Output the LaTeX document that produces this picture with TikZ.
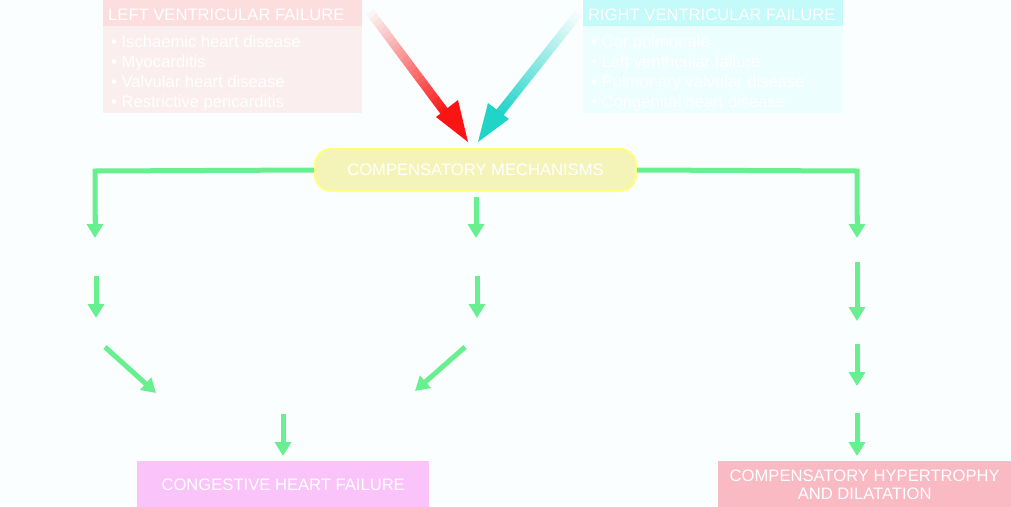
\documentclass[tikz,border=0pt]{standalone}
\usepackage{fontspec}
\setmainfont{Liberation Sans}
\usetikzlibrary{arrows.meta,calc}
\definecolor{grn}{RGB}{104,240,144}
\definecolor{lhead}{RGB}{252,222,222}
\definecolor{lbody}{RGB}{250,238,238}
\definecolor{rhead}{RGB}{196,250,250}
\definecolor{rbody}{RGB}{236,254,254}
\definecolor{cmfill}{RGB}{244,244,184}
\definecolor{cmdraw}{RGB}{255,255,128}
\definecolor{chf}{RGB}{250,196,250}
\definecolor{chd}{RGB}{249,186,196}
\definecolor{bg}{RGB}{251,254,254}
\definecolor{turq}{RGB}{32,212,200}
\definecolor{redA}{RGB}{250,20,20}
\begin{document}
\begin{tikzpicture}[x=1pt,y=-1pt,
  garrow/.style={draw=grn,line width=5pt,-{Triangle[width=16pt,length=14pt]}},
  gline/.style={draw=grn,line width=5pt},
  wtext/.style={text=white,font=\fontsize{16.6}{18}\selectfont},
  btext/.style={text=white,font=\fontsize{16.6}{20}\selectfont,align=left}]
\fill[bg] (0,0) rectangle (1011,506);
\useasboundingbox (0,0) rectangle (1011,506);
% left box
\fill[lbody] (103,26) rectangle (362,113);
\fill[lhead] (103,0) rectangle (362,26);
\node[wtext,anchor=west,inner sep=0pt] (lh) at (108,15) {LEFT VENTRICULAR FAILURE};
\node[btext,anchor=north west,inner sep=0pt] (lb) at (111,35) {• Ischaemic heart disease\\• Myocarditis\\• Valvular heart disease\\• Restrictive pericarditis};
% right box
\fill[rbody] (583,26) rectangle (843,113);
\fill[rhead] (583,0) rectangle (843,26);
\node[wtext,anchor=west,inner sep=0pt] (rh) at (588,15) {RIGHT VENTRICULAR FAILURE};
\node[btext,anchor=north west,inner sep=0pt] (rb) at (591,35) {• Cor pulmonale\\• Left ventricular failure\\• Pulmonary valvular disease\\• Congenital heart disease};
% compensatory mechanisms
\node[fill=cmfill,draw=cmdraw,line width=2pt,rounded corners=16pt,minimum width=321pt,minimum height=42pt,wtext] (cm) at (475.5,170) {COMPENSATORY MECHANISMS};
% gradient arrows
\coordinate (rs) at (370,12);
\coordinate (cs) at (578,14);
\foreach \i in {0,...,24}{
  \pgfmathsetmacro{\a}{\i/25}\pgfmathsetmacro{\b}{(\i+1.05)/25}
  \pgfmathsetmacro{\c}{4+\i*4}
  \draw[redA!\c!bg,line width=9pt] ($(rs)!\a!(447,115)$) -- ($(rs)!\b!(447,115)$);
  \draw[turq!\c!bg,line width=9pt] ($(cs)!\a!(498,115)$) -- ($(cs)!\b!(498,115)$);
}
\fill[redA] (468,142) -- (436,117) -- (458,100) -- cycle;
\fill[turq] (478,142) -- (488,103) -- (509,119) -- cycle;
% green connectors
\coordinate (l1) at (95,238); \coordinate (m1) at (476,238); \coordinate (r1) at (857,238);
\draw[gline] (cm.west) -- (95,171) -- (95,222);
\draw[garrow] (95,215) -- (l1);
\draw[gline] (cm.east) -- (857,171) -- (857,222);
\draw[garrow] (857,215) -- (r1);
\coordinate (m0) at (476,197);
\draw[garrow] (m0) -- (m1);
\coordinate (l2a) at (96,276); \coordinate (l2b) at (96,318);
\draw[garrow] (l2a) -- (l2b);
\coordinate (m2a) at (477,276); \coordinate (m2b) at (477,318);
\draw[garrow] (m2a) -- (m2b);
\coordinate (d1a) at (105,347); \coordinate (d1b) at (156,393);
\draw[garrow] (d1a) -- (d1b);
\coordinate (d2a) at (465,347); \coordinate (d2b) at (415,391);
\draw[garrow] (d2a) -- (d2b);
\coordinate (c1a) at (283,414); \coordinate (c1b) at (283,456);
\draw[garrow] (c1a) -- (c1b);
\coordinate (r2a) at (857,262); \coordinate (r2b) at (857,321);
\draw[garrow] (r2a) -- (r2b);
\coordinate (r3a) at (857,344); \coordinate (r3b) at (857,386);
\draw[garrow] (r3a) -- (r3b);
\coordinate (r4a) at (857,413); \coordinate (r4b) at (857,456);
\draw[garrow] (r4a) -- (r4b);
% bottom boxes
\node[fill=chf,minimum width=292pt,minimum height=46pt,anchor=north west,inner sep=0pt] (chfn) at (137,461) {};
\node[wtext] (chft) at ([yshift=-1pt]chfn.center) {CONGESTIVE HEART FAILURE};
\node[fill=chd,minimum width=293pt,minimum height=46pt,anchor=north west,inner sep=0pt] (chdn) at (718,461) {};
\node[wtext,align=center] (chdt) at ([yshift=-1pt]chdn.center) {COMPENSATORY HYPERTROPHY\\AND DILATATION};
\end{tikzpicture}
\end{document}
